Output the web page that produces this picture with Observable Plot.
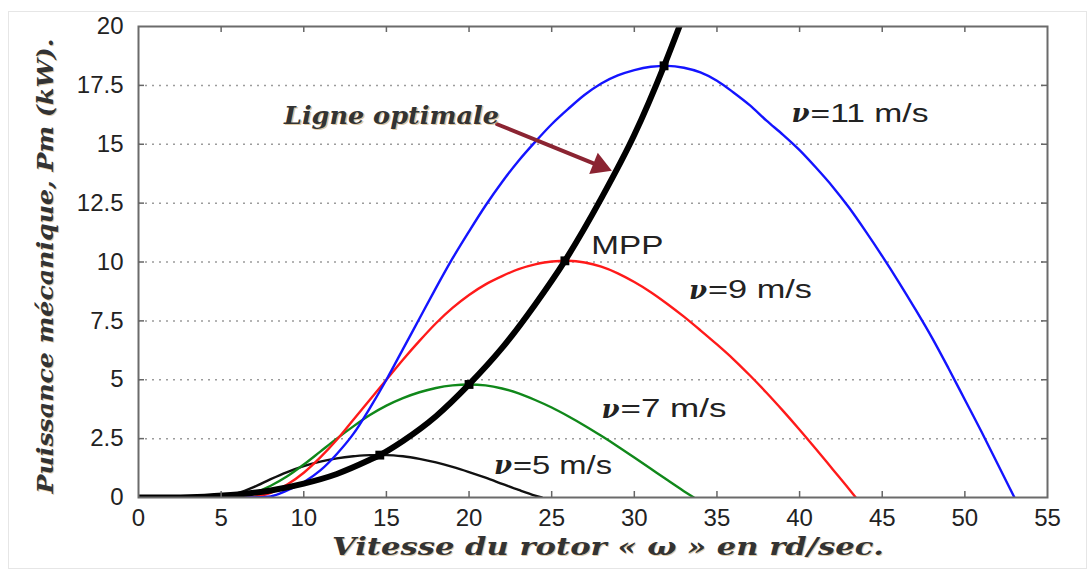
<!DOCTYPE html>
<html><head><meta charset="utf-8">
<script src="https://cdn.jsdelivr.net/npm/d3@7"></script>
<script src="https://cdn.jsdelivr.net/npm/@observablehq/plot@0.6"></script>
<style>
body{margin:0;background:#fff;}
#wrap{position:relative;width:1091px;height:574px;overflow:hidden;}
#border{position:absolute;left:8px;top:11px;width:1077px;height:556px;border:1px solid #e6e6e6;pointer-events:none;}
</style></head><body>
<div id="wrap"><div id="border"></div></div>
<script>
// ---- tick values ----
const xTicks = [0, 5, 10, 15, 20, 25, 30, 35, 40, 45, 50, 55];
const yTicks = [0, 2.5, 5, 7.5, 10, 12.5, 15, 17.5, 20];

// ---- v = 5 m/s (black) ----
const omega5 = [0, 4, 5, 6, 7, 8, 9, 10, 11, 12, 13, 14, 15, 16, 17, 18, 19, 20, 21, 22, 23, 24, 24.4];
const power5 = [0, 0, 0.03, 0.18, 0.45, 0.78, 1.08, 1.33, 1.52, 1.66, 1.75, 1.8, 1.8, 1.75, 1.64, 1.49, 1.3, 1.08, 0.84, 0.58, 0.32, 0.08, 0];

// ---- v = 7 m/s (green) ----
const omega7 = [0, 5, 6, 7, 8, 9, 10, 11, 12, 13, 14, 15, 16, 17, 18, 19, 20, 21, 22, 23, 24, 25, 26, 27, 28, 29, 30, 31, 32, 33, 33.6];
const power7 = [0, 0, 0.03, 0.2, 0.5, 0.9, 1.4, 1.95, 2.5, 3.02, 3.5, 3.9, 4.22, 4.47, 4.65, 4.76, 4.8, 4.76, 4.63, 4.42, 4.14, 3.82, 3.45, 3.05, 2.62, 2.17, 1.7, 1.22, 0.74, 0.27, 0];

// ---- v = 9 m/s (red) ----
const omega9 = [0, 6, 7, 8, 9, 10, 11, 12, 13, 14, 15, 16, 17, 18, 19, 20, 21, 22, 23, 24, 25, 26, 27, 28, 29, 30, 31, 32, 33, 34, 35, 36, 37, 38, 39, 40, 41, 42, 43, 43.4];
const power9 = [0, 0, 0.03, 0.2, 0.55, 1.05, 1.7, 2.45, 3.3, 4.15, 5.0, 5.85, 6.65, 7.4, 8.05, 8.6, 9.05, 9.4, 9.7, 9.9, 10.02, 10.05, 9.98, 9.8, 9.52, 9.15, 8.72, 8.22, 7.68, 7.1, 6.5, 5.87, 5.18, 4.45, 3.68, 2.88, 2.05, 1.2, 0.35, 0];

// ---- v = 11 m/s (blue) ----
const omega11 = [0, 7, 8, 9, 10, 11, 12, 13, 14, 15, 16, 17, 18, 19, 20, 21, 22, 23, 24, 25, 26, 27, 28, 29, 30, 31, 32, 33, 34, 35, 36, 37, 38, 39, 40, 41, 42, 43, 44, 45, 46, 47, 48, 49, 50, 51, 52, 53];
const power11 = [0, 0, 0.05, 0.3, 0.65, 1.15, 1.85, 2.7, 3.8, 5.0, 6.3, 7.6, 8.9, 10.15, 11.3, 12.4, 13.4, 14.3, 15.1, 15.85, 16.5, 17.1, 17.58, 17.92, 18.15, 18.29, 18.33, 18.25, 18.05, 17.7, 17.2, 16.65, 16.0, 15.4, 14.75, 14.0, 13.2, 12.3, 11.3, 10.25, 9.15, 8.0, 6.8, 5.5, 4.15, 2.8, 1.4, 0];

// ---- optimal line (ligne optimale) ----
const omegaOpt = [0, 2, 4, 6, 8, 10, 12, 14, 14.6, 16, 18, 20, 22, 24, 25.8, 28, 30, 31.8, 33];
const powerOpt = [0, 0.005, 0.037, 0.125, 0.3, 0.59, 1.0, 1.6, 1.8, 2.4, 3.45, 4.8, 6.35, 8.2, 10.05, 12.7, 15.4, 18.33, 20.5];

// ---- maximum power points ----
const mppOmega = [14.6, 20.0, 25.8, 31.8];
const mppPower = [1.8, 4.8, 10.05, 18.33];

// ---- annotations ----
const speedLabels = ["=11 m/s", "=9 m/s", "=7 m/s", "=5 m/s"];
const speedLabelW = [40.6, 34.4, 29.1, 22.6];
const speedLabelP = [16.3, 8.8, 3.75, 1.35];
const xTitle = "Vitesse du rotor « ω » en rd/sec.";
const yTitle = "Puissance mécanique, Pm (kW).";

const rows = (ws, ps) => ws.map((w, i) => ({w, p: ps[i]}));
const labelRows = speedLabels.map((t, i) => ({t, w: speedLabelW[i], p: speedLabelP[i]}));

const serifBI = {fontFamily: "DejaVu Serif", fontStyle: "italic", fontWeight: "bold"};
const lineOpts = {x: "w", y: "p", curve: "monotone-x", clip: true, strokeWidth: 2.4};
const arrowColor = "#8b2432";

const chart = Plot.plot({
  width: 1091,
  height: 574,
  marginLeft: 138,
  marginRight: 44,
  marginTop: 26,
  marginBottom: 77,
  style: {fontFamily: "Liberation Sans, Arial, sans-serif", background: "transparent", color: "#222"},
  x: {domain: [0, 55]},
  y: {domain: [0, 20]},
  marks: [
    Plot.gridY(yTicks.slice(1, -1), {stroke: "#9c9c9c", strokeOpacity: 1, strokeWidth: 1.5, strokeDasharray: "2,5"}),
    Plot.line(rows(omega5, power5), {...lineOpts, stroke: "#111"}),
    Plot.line(rows(omega7, power7), {...lineOpts, stroke: "#10881a"}),
    Plot.line(rows(omega9, power9), {...lineOpts, stroke: "#ff1a1a"}),
    Plot.line(rows(omega11, power11), {...lineOpts, stroke: "#1414ff"}),
    Plot.line(rows(omegaOpt, powerOpt), {x: "w", y: "p", curve: "monotone-x", clip: true, stroke: "#000", strokeWidth: 6}),
    Plot.dot(rows(mppOmega, mppPower), {x: "w", y: "p", symbol: "square", r: 5, fill: "#000"}),
    Plot.frame({stroke: "#6b6b6b", strokeWidth: 2}),
    Plot.ruleX(xTicks.slice(1, -1), {x: d => d, y1: 0, y2: 0, insetTop: -6, stroke: "#666", strokeWidth: 1.5}),
    Plot.ruleX(xTicks.slice(1, -1), {x: d => d, y1: 20, y2: 20, insetBottom: -6, stroke: "#666", strokeWidth: 1.5}),
    Plot.ruleY(yTicks.slice(1, -1), {y: d => d, x1: 0, x2: 0, insetRight: -6, stroke: "#666", strokeWidth: 1.5}),
    Plot.ruleY(yTicks.slice(1, -1), {y: d => d, x1: 55, x2: 55, insetLeft: -6, stroke: "#666", strokeWidth: 1.5}),
    Plot.axisX(xTicks, {tickSize: 0, tickPadding: 11, fontSize: 24, label: null, tickFormat: d => String(d)}),
    Plot.axisY(yTicks, {tickSize: 0, tickPadding: 15, fontSize: 24, label: null, tickFormat: d => String(d)}),
    // arrow: shaft + filled head
    Plot.arrow([{x1: 21.7, y1: 15.85, x2: 27.9, y2: 14.08}], {x1: "x1", y1: "y1", x2: "x2", y2: "y2", stroke: arrowColor, strokeWidth: 4, headLength: 0}),
    Plot.dot([{w: 27.9, p: 14.08}], {x: "w", y: "p", symbol: "triangle", r: 8.5, rotate: 112, fill: arrowColor, stroke: "none"}),
    // Ligne optimale (shadow + text)
    Plot.text(["Ligne optimale"], {x: 8.8, y: 16.2, text: d => d, textAnchor: "start", ...serifBI, fontSize: 24, fill: "#c49a55", fillOpacity: 0.55, dx: 1.5, dy: 1.5, className: "lo"}),
    Plot.text(["Ligne optimale"], {x: 8.8, y: 16.2, text: d => d, textAnchor: "start", ...serifBI, fontSize: 24, fill: "#333", className: "lo"}),
    // MPP
    Plot.text(["MPP"], {x: 27.4, y: 10.7, text: d => d, textAnchor: "start", fontSize: 26, fill: "#222", className: "mpp"}),
    // speed labels
    Plot.text(labelRows, {x: "w", y: "p", text: () => "ν", textAnchor: "end", ...serifBI, fontSize: 26, fill: "#222"}),
    Plot.text(labelRows, {x: "w", y: "p", text: "t", textAnchor: "start", fontSize: 25, fill: "#222", dx: 1, className: "sp"}),
    // axis titles
    Plot.text([xTitle], {frameAnchor: "bottom", lineAnchor: "middle", dx: 16, dy: 51, text: d => d, ...serifBI, fontSize: 24, fill: "#c49a55", fillOpacity: 0.5, className: "xt"}),
    Plot.text([xTitle], {frameAnchor: "bottom", lineAnchor: "middle", dx: 15, dy: 50, text: d => d, ...serifBI, fontSize: 24, fill: "#333", className: "xt"}),
    Plot.text([yTitle], {frameAnchor: "left", textAnchor: "middle", lineAnchor: "middle", dx: -92, dy: 5, rotate: -90, text: d => d, ...serifBI, fontSize: 23, fill: "#c49a55", fillOpacity: 0.5, className: "yt"}),
    Plot.text([yTitle], {frameAnchor: "left", textAnchor: "middle", lineAnchor: "middle", dx: -93, dy: 4, rotate: -90, text: d => d, ...serifBI, fontSize: 23, fill: "#333", className: "yt"})
  ]
});

const svg = d3.select(chart);
const fit = (sel, len) => svg.selectAll(sel).attr("textLength", len).attr("lengthAdjust", "spacingAndGlyphs");
fit(".xt text", 552);
fit(".yt text", 455);
fit(".lo text", 215);
fit(".mpp text", 72);
const spLengths = [118, 104, 106, 99];
svg.selectAll(".sp text").each(function(d, i) {
  d3.select(this).attr("textLength", spLengths[i]).attr("lengthAdjust", "spacingAndGlyphs");
});
document.getElementById("wrap").prepend(chart);
</script>
</body></html>
